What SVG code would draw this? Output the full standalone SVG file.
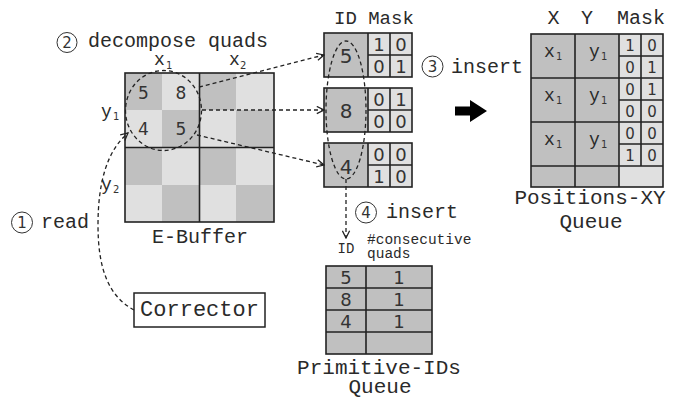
<svg xmlns="http://www.w3.org/2000/svg" width="676" height="400" viewBox="0 0 676 400">
<defs>
<style>
.m{font-family:"Liberation Mono","Courier New",monospace;fill:#2a2a2a}
.s{font-family:"DejaVu Sans","Liberation Sans",sans-serif;fill:#333}
.dk{fill:#c0c0c0}
.lt{fill:#e0e0e0}
.bd{fill:none;stroke:#222;stroke-width:1.6}
.dash{fill:none;stroke:#222;stroke-width:1.3;stroke-dasharray:4 3}
.circ{fill:#fff;stroke:#333;stroke-width:1}
</style>
<marker id="oa" viewBox="0 0 10 10" refX="9" refY="5" markerWidth="9" markerHeight="9" markerUnits="userSpaceOnUse" orient="auto">
<path d="M1,1 L9,5 L1,9" fill="none" stroke="#222" stroke-width="1.4"/>
</marker>
</defs>
<rect width="676" height="400" fill="#fff"/>

<g id="ebuffer">
<rect x="125" y="73" width="149" height="149" class="lt"/>
<rect x="125" y="73" width="37" height="37" class="dk"/>
<rect x="199" y="73" width="37" height="37" class="dk"/>
<rect x="162" y="110" width="37" height="37" class="dk"/>
<rect x="236" y="110" width="38" height="37" class="dk"/>
<rect x="125" y="147" width="37" height="38" class="dk"/>
<rect x="199" y="147" width="37" height="38" class="dk"/>
<rect x="162" y="185" width="37" height="37" class="dk"/>
<rect x="236" y="185" width="38" height="37" class="dk"/>
<rect x="125" y="73" width="149" height="149" class="bd"/>
<line x1="199.5" y1="73" x2="199.5" y2="222" class="bd"/>
<line x1="125" y1="147.5" x2="274" y2="147.5" class="bd"/>
<text class="s" font-size="17" text-anchor="middle" x="143.5" y="99">5</text>
<text class="s" font-size="17" text-anchor="middle" x="181" y="99">8</text>
<text class="s" font-size="17" text-anchor="middle" x="143.5" y="135">4</text>
<text class="s" font-size="17" text-anchor="middle" x="181" y="135">5</text>
<text class="m" font-size="18" x="154" y="65">x</text><text class="s" font-size="10" x="166" y="69">1</text>
<text class="m" font-size="18" x="229" y="65">x</text><text class="s" font-size="10" x="240" y="69">2</text>
<text class="m" font-size="18" x="101" y="117">y</text><text class="s" font-size="10" x="113" y="120">1</text>
<text class="m" font-size="18" x="101" y="190">y</text><text class="s" font-size="10" x="113" y="193">2</text>
<text class="m" font-size="20" text-anchor="middle" x="200" y="243">E-Buffer</text>
</g>

<g id="step2">
<circle cx="67" cy="42.5" r="10" class="circ"/>
<text class="s" font-size="15" text-anchor="middle" x="67" y="48">2</text>
<text class="m" font-size="20" x="88" y="47">decompose quads</text>
</g>

<g id="step1">
<circle cx="22" cy="222.5" r="10.5" class="circ"/>
<text class="s" font-size="15" text-anchor="middle" x="22" y="228">1</text>
<text class="m" font-size="20" x="41" y="228">read</text>
</g>

<g id="corrector">
<rect x="134" y="293" width="131" height="34" fill="#fff" stroke="#222" stroke-width="1.5"/>
<text class="m" font-size="22" text-anchor="middle" x="199.5" y="316">Corrector</text>
</g>

<g id="idmask">
<text class="m" font-size="19" x="334" y="24">ID Mask</text>
<g id="blk1">
<rect x="324" y="33" width="44" height="44" class="dk"/>
<rect x="368" y="33" width="44" height="44" class="lt"/>
<rect x="324" y="33" width="88" height="44" class="bd"/>
<path d="M368,33 V77 M390,33 V77 M368,55 H412" class="bd"/>
<text class="s" font-size="20" text-anchor="middle" x="346" y="62.5">5</text>
<text class="s" font-size="18" text-anchor="middle" x="379" y="50.5">1</text>
<text class="s" font-size="18" text-anchor="middle" x="401" y="50.5">0</text>
<text class="s" font-size="18" text-anchor="middle" x="379" y="72.5">0</text>
<text class="s" font-size="18" text-anchor="middle" x="401" y="72.5">1</text>
</g>
<g id="blk2">
<rect x="324" y="88" width="44" height="44" class="dk"/>
<rect x="368" y="88" width="44" height="44" class="lt"/>
<rect x="324" y="88" width="88" height="44" class="bd"/>
<path d="M368,88 V132 M390,88 V132 M368,110 H412" class="bd"/>
<text class="s" font-size="20" text-anchor="middle" x="346" y="117.5">8</text>
<text class="s" font-size="18" text-anchor="middle" x="379" y="105.5">0</text>
<text class="s" font-size="18" text-anchor="middle" x="401" y="105.5">1</text>
<text class="s" font-size="18" text-anchor="middle" x="379" y="127.5">0</text>
<text class="s" font-size="18" text-anchor="middle" x="401" y="127.5">0</text>
</g>
<g id="blk3">
<rect x="324" y="143" width="44" height="44" class="dk"/>
<rect x="368" y="143" width="44" height="44" class="lt"/>
<rect x="324" y="143" width="88" height="44" class="bd"/>
<path d="M368,143 V187 M390,143 V187 M368,165 H412" class="bd"/>
<text class="s" font-size="20" text-anchor="middle" x="346" y="174">4</text>
<text class="s" font-size="18" text-anchor="middle" x="379" y="160.5">0</text>
<text class="s" font-size="18" text-anchor="middle" x="401" y="160.5">0</text>
<text class="s" font-size="18" text-anchor="middle" x="379" y="182.5">1</text>
<text class="s" font-size="18" text-anchor="middle" x="401" y="182.5">0</text>
</g>
</g>

<g id="step3">
<circle cx="432.5" cy="66.5" r="10.5" class="circ"/>
<text class="s" font-size="15" text-anchor="middle" x="432.5" y="72">3</text>
<text class="m" font-size="20" x="451" y="73">insert</text>
</g>

<g id="step4">
<circle cx="366" cy="212.5" r="10.5" class="circ"/>
<text class="s" font-size="15" text-anchor="middle" x="366" y="218">4</text>
<text class="m" font-size="20" x="386" y="218">insert</text>
</g>

<g id="primqueue">
<text class="m" font-size="14" text-anchor="middle" x="346" y="253">ID</text>
<text class="m" font-size="14.5" x="367" y="244">#consecutive</text>
<text class="m" font-size="14.5" x="367" y="257.5">quads</text>
<rect x="326" y="266" width="106" height="88" class="dk"/>
<rect x="326" y="266" width="106" height="88" class="bd"/>
<path d="M366,266 V354 M326,288 H432 M326,310 H432 M326,332 H432" class="bd"/>
<text class="s" font-size="18" text-anchor="middle" x="346" y="283.5">5</text>
<text class="s" font-size="18" text-anchor="middle" x="399" y="283.5">1</text>
<text class="s" font-size="18" text-anchor="middle" x="346" y="305.5">8</text>
<text class="s" font-size="18" text-anchor="middle" x="399" y="305.5">1</text>
<text class="s" font-size="18" text-anchor="middle" x="346" y="327.5">4</text>
<text class="s" font-size="18" text-anchor="middle" x="399" y="327.5">1</text>
<text class="m" font-size="21" text-anchor="middle" x="379" y="374">Primitive-IDs</text>
<text class="m" font-size="21" text-anchor="middle" x="380" y="393">Queue</text>
</g>

<g id="posqueue">
<text class="m" font-size="20" text-anchor="middle" x="553.5" y="24">X</text>
<text class="m" font-size="20" text-anchor="middle" x="587" y="24">Y</text>
<text class="m" font-size="20" text-anchor="middle" x="641" y="24">Mask</text>
<rect x="531" y="34" width="88" height="153" class="dk"/>
<rect x="619" y="34" width="44" height="153" class="lt"/>
<rect x="531" y="34" width="132" height="153" class="bd"/>
<path d="M575,34 V187 M619,34 V187 M641,34 V166 M531,78 H663 M531,122 H663 M531,166 H663 M619,56 H663 M619,100 H663 M619,144 H663" class="bd"/>
<g class="m" font-size="18">
<text x="544" y="57">x</text><text x="589" y="57">y</text>
<text x="544" y="101">x</text><text x="589" y="101">y</text>
<text x="544" y="145">x</text><text x="589" y="145">y</text>
</g>
<g class="s" font-size="10">
<text x="556" y="60">1</text><text x="601" y="60">1</text>
<text x="556" y="104">1</text><text x="601" y="104">1</text>
<text x="556" y="148">1</text><text x="601" y="148">1</text>
</g>
<g class="s" font-size="15" text-anchor="middle">
<text x="630" y="50.5">1</text><text x="652" y="50.5">0</text>
<text x="630" y="72.5">0</text><text x="652" y="72.5">1</text>
<text x="630" y="94.5">0</text><text x="652" y="94.5">1</text>
<text x="630" y="116.5">0</text><text x="652" y="116.5">0</text>
<text x="630" y="138.5">0</text><text x="652" y="138.5">0</text>
<text x="630" y="160.5">1</text><text x="652" y="160.5">0</text>
</g>
<text class="m" font-size="21" text-anchor="middle" x="590" y="204">Positions-XY</text>
<text class="m" font-size="21" text-anchor="middle" x="591" y="228">Queue</text>
</g>

<g id="connectors">
<ellipse cx="163.5" cy="110.5" rx="38" ry="40" class="dash"/>
<ellipse cx="346" cy="110" rx="20" ry="69" class="dash"/>
<path d="M199,87 L324,55" class="dash" marker-end="url(#oa)"/>
<path d="M202,110 L324,110" class="dash" marker-end="url(#oa)"/>
<path d="M197,135 L324,165" class="dash" marker-end="url(#oa)"/>
<path d="M346,179 L346,238" class="dash" marker-end="url(#oa)"/>
<path d="M134,310 C108,296 98,268 98,225 C98,180 108,150 128,133" class="dash" marker-end="url(#oa)"/>
<polygon points="455,106.5 470,106.5 470,100 487,111 470,122 470,115.5 455,115.5" fill="#000"/>
</g>
</svg>
